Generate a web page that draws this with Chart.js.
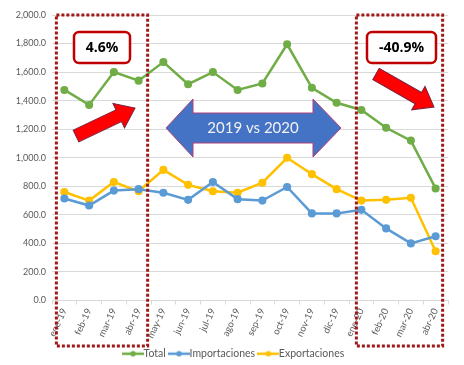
<!DOCTYPE html>
<html>
<head>
<meta charset="utf-8">
<script src="https://cdn.jsdelivr.net/npm/chart.js@4"></script>
<style>
  html, body { margin: 0; padding: 0; background: #fff; }
  #wrap { width: 464px; height: 365px; }
</style>
</head>
<body>
<div id="wrap"><canvas id="tradeChart" width="464" height="365"></canvas></div>
<script>
// Data
const months = ['ene-19', 'feb-19', 'mar-19', 'abr-19', 'may-19', 'jun-19', 'jul-19', 'ago-19',
  'sep-19', 'oct-19', 'nov-19', 'dic-19', 'ene-20', 'feb-20', 'mar-20', 'abr-20'];
const total = [1475, 1370, 1600, 1540, 1670, 1515, 1600, 1475, 1520, 1795, 1490, 1385, 1335, 1210, 1120, 785];
const importaciones = [715, 665, 770, 780, 755, 705, 830, 710, 700, 795, 610, 610, 635, 505, 400, 450];
const exportaciones = [760, 700, 830, 765, 915, 810, 765, 755, 825, 1000, 885, 780, 700, 705, 720, 345];
const seriesNames = ['Total', 'Importaciones', 'Exportaciones'];
const seriesColors = ['#70ad47', '#5b9bd5', '#ffc000'];
const notes = ['4.6%', '-40.9%', '2019 vs 2020'];

// small line+dot icon for the legend
function legendIcon(color) {
  const c = document.createElement('canvas');
  c.width = 22; c.height = 8;
  const g = c.getContext('2d');
  g.strokeStyle = color; g.lineWidth = 2.5;
  g.beginPath(); g.moveTo(0, 4); g.lineTo(22, 4); g.stroke();
  g.fillStyle = color;
  g.beginPath(); g.arc(11, 4, 2.8, 0, Math.PI * 2); g.fill();
  return c;
}

function blockArrow(ctx, x0, y0, x1, y1, bodyW, headW, headL, fill, stroke) {
  const ang = Math.atan2(y1 - y0, x1 - x0);
  const len = Math.hypot(x1 - x0, y1 - y0);
  ctx.save();
  ctx.translate(x0, y0);
  ctx.rotate(ang);
  ctx.beginPath();
  ctx.moveTo(0, -bodyW / 2);
  ctx.lineTo(len - headL, -bodyW / 2);
  ctx.lineTo(len - headL, -headW / 2);
  ctx.lineTo(len, 0);
  ctx.lineTo(len - headL, headW / 2);
  ctx.lineTo(len - headL, bodyW / 2);
  ctx.lineTo(0, bodyW / 2);
  ctx.closePath();
  ctx.fillStyle = fill; ctx.fill();
  ctx.strokeStyle = stroke; ctx.lineWidth = 1; ctx.stroke();
  ctx.restore();
}

function roundBox(ctx, x, y, w, h, r, text) {
  ctx.save();
  ctx.beginPath();
  ctx.roundRect(x, y, w, h, r);
  ctx.fillStyle = '#fff'; ctx.fill();
  ctx.strokeStyle = '#c00000'; ctx.lineWidth = 2.5; ctx.stroke();
  ctx.fillStyle = '#000';
  ctx.font = 'bold 14px "Open Sans", sans-serif';
  ctx.textAlign = 'center'; ctx.textBaseline = 'middle';
  ctx.fillText(text, x + w / 2, y + h / 2 + 1);
  ctx.restore();
}

const overlay = {
  id: 'overlay',
  // nudge the legend a little right, like the original
  afterLayout(chart) {
    chart.legend.left += 12;
    chart.legend.right += 12;
  },
  afterDraw(chart) {
    const ctx = chart.ctx;
    const xs = chart.scales.x, ys = chart.scales.y;
    const top = ys.getPixelForValue(2000);

    // dotted frames
    ctx.save();
    ctx.strokeStyle = '#a01818';
    ctx.lineWidth = 3;
    ctx.setLineDash([3, 2]);
    ctx.strokeRect(xs.getPixelForValue(0) - 8, top, xs.getPixelForValue(3) - xs.getPixelForValue(0) + 17, 331);
    ctx.strokeRect(xs.getPixelForValue(12) - 5, top, xs.getPixelForValue(15) - xs.getPixelForValue(12) + 12, 331);
    ctx.restore();

    roundBox(ctx, 74, 32, 56, 31, 5, notes[0]);
    roundBox(ctx, 367, 32, 69, 31, 5, notes[1]);

    blockArrow(ctx, 76, 136, 135, 108, 13, 27, 18, '#ff0000', '#7a2040');
    blockArrow(ctx, 376, 74, 434, 107, 13, 27, 18, '#ff0000', '#7a2040');

    // blue double-headed arrow
    ctx.save();
    ctx.beginPath();
    ctx.moveTo(166, 128);
    ctx.lineTo(193, 99);
    ctx.lineTo(193, 113);
    ctx.lineTo(313, 113);
    ctx.lineTo(313, 99);
    ctx.lineTo(341, 128);
    ctx.lineTo(313, 157);
    ctx.lineTo(313, 143);
    ctx.lineTo(193, 143);
    ctx.lineTo(193, 157);
    ctx.closePath();
    ctx.fillStyle = '#4472c4'; ctx.fill();
    ctx.strokeStyle = '#b0407a'; ctx.lineWidth = 1; ctx.stroke();
    ctx.fillStyle = '#f2f2f2';
    ctx.font = '15px Lato, sans-serif';
    ctx.textAlign = 'center'; ctx.textBaseline = 'middle';
    ctx.fillText(notes[2], 253, 128);
    ctx.restore();
  }
};

function makeSet(i, data) {
  return {
    label: seriesNames[i],
    data: data,
    borderColor: seriesColors[i],
    backgroundColor: seriesColors[i],
    borderWidth: 2.5,
    pointRadius: 2.8,
    pointHoverRadius: 2.8,
    pointStyle: 'circle',
    tension: 0,
  };
}

const ctx = document.getElementById('tradeChart').getContext('2d');
new Chart(ctx, {
  type: 'line',
  data: {
    labels: months,
    datasets: [makeSet(0, total), makeSet(1, importaciones), makeSet(2, exportaciones)],
  },
  options: {
    responsive: false,
    animation: false,
    layout: { padding: { top: 15, right: 16, left: 0, bottom: -4 } },
    plugins: {
      tooltip: { enabled: false },
      legend: {
        position: 'bottom',
        labels: {
          usePointStyle: true,
          boxHeight: 8,
          padding: 8,
          color: '#595959',
          font: { size: 10.5, family: 'Lato, sans-serif' },
          generateLabels(chart) {
            const items = Chart.defaults.plugins.legend.labels.generateLabels(chart);
            items.forEach((it, i) => { it.pointStyle = legendIcon(seriesColors[i]); });
            return items;
          },
        },
      },
    },
    scales: {
      x: {
        offset: true,
        afterFit(s) { s.height = 40; },
        grid: { display: true, drawOnChartArea: false, tickLength: 4, color: '#d9d9d9', offset: true },
        border: { color: '#d9d9d9' },
        ticks: {
          color: '#595959',
          font: { size: 9.5, family: 'Lato, sans-serif' },
          minRotation: 65,
          maxRotation: 65,
          autoSkip: false,
          padding: 2,
        },
      },
      y: {
        min: 0,
        max: 2000,
        afterFit(s) { s.width = 52; },
        ticks: {
          stepSize: 200,
          padding: 6,
          color: '#595959',
          font: { size: 9, family: 'Lato, sans-serif' },
          callback: (v) => v.toLocaleString('en-US', { minimumFractionDigits: 1, maximumFractionDigits: 1 }),
        },
        grid: { color: '#d9d9d9', drawTicks: false },
        border: { display: false },
      },
    },
  },
  plugins: [overlay],
});
</script>
</body>
</html>
